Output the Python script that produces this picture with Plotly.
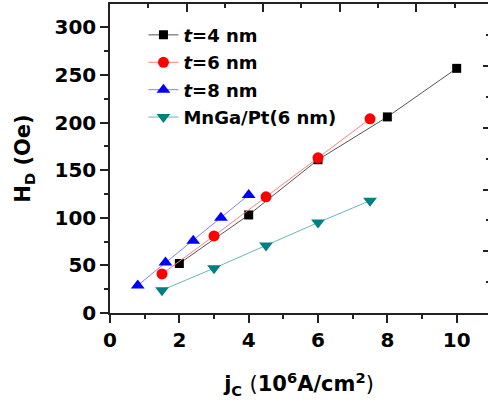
import plotly.graph_objects as go

# Data
t4_x = [2, 4, 6, 8, 10]
t4_y = [52, 103, 161, 206, 257]
t6_x = [1.5, 3, 4.5, 6, 7.5]
t6_y = [41, 81, 122, 163, 204]
t8_x = [0.8, 1.6, 2.4, 3.2, 4.0]
t8_y = [29, 53, 76, 100, 124]
mn_x = [1.5, 3, 4.5, 6, 7.5]
mn_y = [24, 47, 71, 95, 118]

names = ["<i>t</i>=4 nm", "<i>t</i>=6 nm", "<i>t</i>=8 nm", "MnGa/Pt(6 nm)"]

FONT = "DejaVu Sans"

fig = go.Figure()

series = [
    (t4_x, t4_y, names[0], "square", 9, "#000000", "#555555"),
    (t6_x, t6_y, names[1], "circle", 11, "#ff0000", "#ff8080"),
    (t8_x, t8_y, names[2], "triangle-up", 12, "#0000ff", "#8080ff"),
    (mn_x, mn_y, names[3], "triangle-down", 12, "#008080", "#66b8b8"),
]
for i, (xs, ys, nm, sym, sz, mc, lc) in enumerate(series):
    fig.add_trace(go.Scatter(
        x=xs, y=ys, name=nm, mode="lines+markers",
        line=dict(color=lc, width=1),
        marker=dict(symbol=sym, size=sz, color=mc, line=dict(width=0)),
        legendgroup=f"g{i}",
    ))

# dummy trace to attach mirror axes
fig.add_trace(go.Scatter(x=[None], y=[None], xaxis="x2", yaxis="y2",
                         showlegend=False, hoverinfo="skip"))

tickfont = dict(family=FONT, size=20, color="black", weight="bold")
axcol = "#222222"

fig.update_layout(
    width=489, height=409,
    margin=dict(l=110, r=1, t=4, b=96, autoexpand=False),
    paper_bgcolor="white", plot_bgcolor="white",
    showlegend=True,
    legend=dict(
        x=0.0885, y=0.959, xanchor="left", yanchor="top",
        font=dict(family=FONT, size=18, color="black", weight="bold"),
        bgcolor="rgba(0,0,0,0)", tracegroupgap=1,
    ),
    xaxis=dict(
        range=[0, 10.903], tick0=0, dtick=2, automargin=False,
        ticks="outside", ticklen=8, tickwidth=1.5, tickcolor=axcol,
        minor=dict(dtick=1, ticks="outside", ticklen=4, tickwidth=1.5, tickcolor=axcol),
        showline=True, linewidth=1.5, linecolor=axcol,
        showgrid=False, zeroline=False, tickfont=tickfont,
        title=dict(
            text="j<sub>C</sub> <span style='font-weight:normal'>(</span>10<sup>6</sup>A/cm<sup>2</sup><span style='font-weight:normal'>)</span>",
            font=dict(family=FONT, size=21, color="black", weight="bold"),
            standoff=26,
        ),
    ),
    yaxis=dict(
        range=[0, 324.6], tick0=0, dtick=50, automargin=False,
        ticks="outside", ticklen=8, tickwidth=1.5, tickcolor=axcol,
        minor=dict(dtick=25, ticks="outside", ticklen=4, tickwidth=1.5, tickcolor=axcol),
        showline=True, linewidth=1.5, linecolor=axcol,
        showgrid=False, zeroline=False, tickfont=tickfont,
        title=dict(
            text="H<sub>D</sub> (Oe)",
            font=dict(family=FONT, size=21, color="black", weight="bold"),
            standoff=18,
        ),
    ),
    xaxis2=dict(
        overlaying="x", side="top", anchor="y2", automargin=False,
        range=[0, 9.87], tick0=0, dtick=2,
        ticks="inside", ticklen=8, tickwidth=1.5, tickcolor=axcol,
        minor=dict(dtick=1, ticks="inside", ticklen=4, tickwidth=1.5, tickcolor=axcol),
        showline=True, linewidth=1.5, linecolor=axcol,
        showgrid=False, zeroline=False, showticklabels=False,
    ),
    yaxis2=dict(
        overlaying="y", side="right", anchor="x2", automargin=False,
        range=[0, 5.008], tick0=0, dtick=1,
        ticks="inside", ticklen=5, tickwidth=1.5, tickcolor=axcol,
        minor=dict(dtick=0.5, ticks="inside", ticklen=2, tickwidth=1.5, tickcolor=axcol),
        showline=False, showgrid=False, zeroline=False, showticklabels=False,
    ),
)

fig.write_html("out.html", config={"displayModeBar": False},
               post_script="document.body.style.margin='0';document.body.style.overflow='hidden';")
